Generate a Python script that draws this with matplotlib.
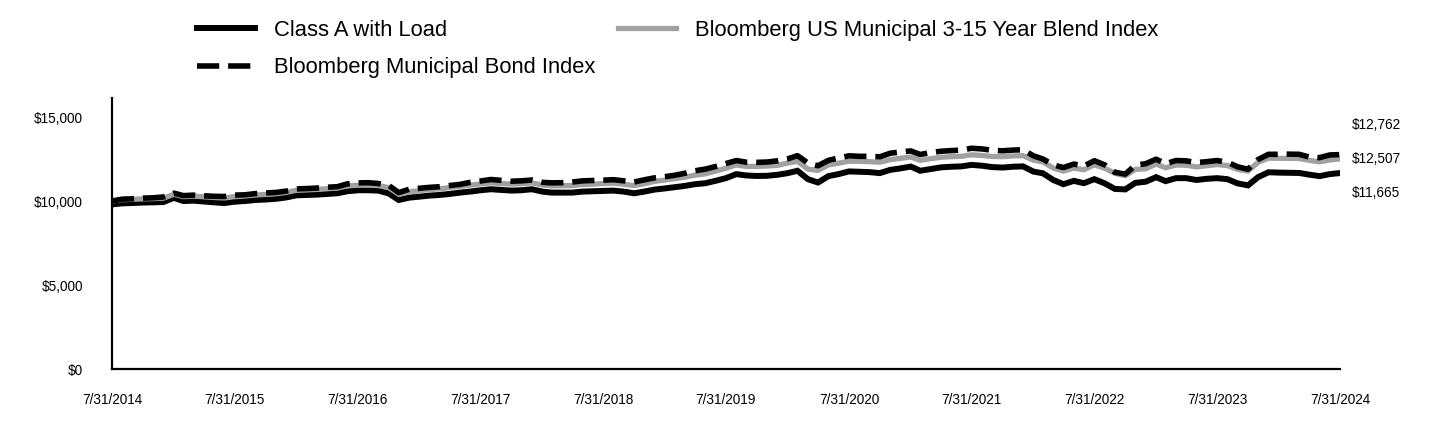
import matplotlib.pyplot as plt
import matplotlib.dates as mdates
import pandas as pd

plt.rcParams['font.family'] = ['Liberation Sans', 'DejaVu Sans']

dates = pd.date_range('2014-07-31', '2024-07-31', freq='ME')

class_a = [
    9800, 9860, 9880, 9910, 9920, 9940, 10190, 10000, 10020, 9970, 9920, 9880,
    9960, 10000, 10060, 10090, 10130, 10210, 10340, 10360, 10380, 10420, 10460, 10580,
    10640, 10640, 10620, 10450, 10060, 10200, 10260, 10320, 10360, 10420, 10500, 10560,
    10640, 10700, 10660, 10620, 10640, 10700, 10560, 10500, 10500, 10500, 10560, 10580,
    10600, 10620, 10560, 10460, 10560, 10680, 10750, 10820, 10900, 11000, 11060, 11200,
    11360, 11600, 11520, 11490, 11500, 11560, 11660, 11800, 11300, 11100, 11480, 11600,
    11760, 11740, 11720, 11660, 11850, 11940, 12050, 11800, 11900, 12000, 12040, 12060,
    12150, 12100, 12020, 11990, 12040, 12060, 11750, 11650, 11250, 11000, 11200, 11060,
    11300, 11050, 10720, 10690, 11080, 11150, 11420, 11180, 11360, 11360, 11250, 11320,
    11360, 11300, 11050, 10930, 11420, 11710, 11690, 11680, 11670, 11570, 11480, 11600,
    11665,
]

muni_bond = [
    10000, 10110, 10130, 10170, 10190, 10240, 10470, 10320, 10350, 10310, 10280, 10270,
    10350, 10370, 10440, 10480, 10510, 10590, 10720, 10740, 10770, 10820, 10850, 11020,
    11080, 11090, 11040, 10930, 10500, 10700, 10760, 10810, 10850, 10920, 10990, 11110,
    11190, 11280, 11230, 11180, 11200, 11250, 11110, 11080, 11090, 11130, 11200, 11220,
    11240, 11270, 11200, 11130, 11260, 11380, 11450, 11530, 11650, 11800, 11900, 12050,
    12230, 12410, 12310, 12300, 12320, 12390, 12510, 12700, 12260, 12100, 12420, 12560,
    12690, 12660, 12660, 12630, 12840, 12920, 12980, 12770, 12880, 12960, 13000, 13030,
    13140, 13100, 13020, 12990, 13030, 13050, 12690, 12500, 12150, 11990, 12200, 12080,
    12400, 12150, 11710, 11600, 12130, 12220, 12490, 12220, 12410, 12390, 12290, 12340,
    12410, 12310, 12040, 11890, 12470, 12780, 12780, 12790, 12780, 12620, 12580, 12740,
    12762,
]

blend_3_15 = [
    10000, 10080, 10100, 10130, 10140, 10170, 10400, 10260, 10290, 10250, 10210, 10180,
    10260, 10300, 10360, 10390, 10430, 10510, 10640, 10660, 10690, 10730, 10770, 10900,
    10940, 10940, 10920, 10800, 10400, 10550, 10620, 10680, 10720, 10800, 10870, 10940,
    11020, 11080, 11040, 11010, 11030, 11080, 10950, 10900, 10910, 10920, 10980, 11000,
    11040, 11060, 11000, 10920, 11030, 11170, 11250, 11330, 11420, 11540, 11620, 11780,
    11950, 12150, 12060, 12060, 12080, 12120, 12260, 12360, 11900, 11820, 12150, 12250,
    12370, 12360, 12340, 12310, 12460, 12540, 12620, 12420, 12520, 12600, 12640, 12660,
    12750, 12710, 12650, 12640, 12680, 12700, 12430, 12330, 11960, 11780, 11960, 11860,
    12150, 11950, 11650, 11500, 11880, 11920, 12200, 11980, 12140, 12130, 12030, 12100,
    12170, 12110, 11880, 11780, 12300, 12550, 12540, 12540, 12530, 12420, 12330, 12440,
    12507,
]

labels = ['Class A with Load', 'Bloomberg Municipal Bond Index',
          'Bloomberg US Municipal 3-15 Year Blend Index']
y_ticks = [0, 5000, 10000, 15000]
tick_dates = pd.date_range('2014-07-31', '2024-07-31', freq='12ME')

fig = plt.figure(figsize=(14.4, 4.32), dpi=100)
ax = fig.add_axes([0.0778, 0.1458, 0.8528, 0.6273])

la, = ax.plot(dates, class_a, color='black', lw=4.3, solid_joinstyle='miter')
lb, = ax.plot(dates, blend_3_15, color='#a0a2a2', lw=3.8, solid_joinstyle='miter')
lc, = ax.plot(dates, muni_bond, color='black', lw=4, dashes=(4, 1.6))

ax.set_xlim(dates[0], dates[-1])
ax.set_ylim(0, 16130)
ax.set_yticks(y_ticks)
ax.set_yticklabels(['${:,}'.format(v) for v in y_ticks])
ax.set_xticks(tick_dates)
ax.xaxis.set_major_formatter(
    plt.FuncFormatter(lambda v, p: '{d.month}/{d.day}/{d.year}'.format(d=mdates.num2date(v))))
ax.tick_params(length=0, labelsize=9.8)
ax.tick_params(axis='y', pad=21)
ax.tick_params(axis='x', pad=17)
for s in ['top', 'right']:
    ax.spines[s].set_visible(False)
for s in ['left', 'bottom']:
    ax.spines[s].set_linewidth(1.6)

fig.legend([la, lc, lb], labels, ncol=2, loc='upper left',
           bbox_to_anchor=(0.1368, 0.954), frameon=False, fontsize=15.8,
           handlelength=2.65, handletextpad=0.85, columnspacing=1.05,
           labelspacing=0.75, borderpad=0, borderaxespad=0)

end_vals = [muni_bond[-1], blend_3_15[-1], class_a[-1]]
for v, yy in zip(end_vals, [0.7106, 0.632, 0.5532]):
    fig.text(0.939, yy, '${:,}'.format(v), fontsize=9.8, va='center', ha='left')

plt.savefig('out.png', dpi=100)
